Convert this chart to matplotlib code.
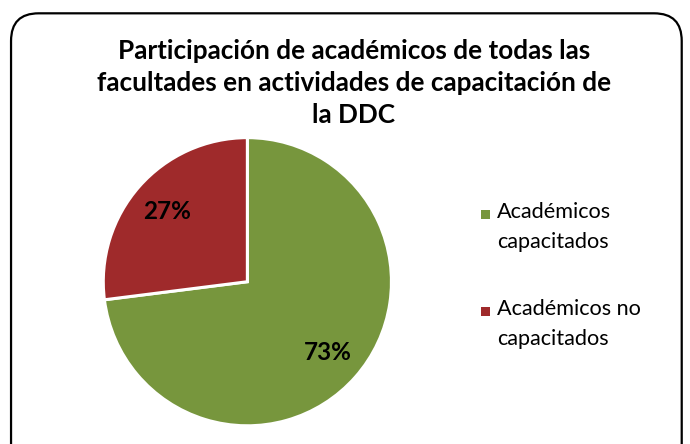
import matplotlib.pyplot as plt
from matplotlib.patches import FancyBboxPatch, Rectangle

plt.rcParams['font.family'] = ['Lato', 'DejaVu Sans']

# datos
labels = ['Académicos\ncapacitados', 'Académicos no\ncapacitados']
values = [73, 27]
colors = ['#77963D', '#9F2A2B']
title = 'Participación de académicos de todas las\nfacultades en actividades de capacitación de\nla DDC'

fig = plt.figure(figsize=(6.9, 4.44), dpi=100)

# marco redondeado
frame = FancyBboxPatch((0.016, -0.1), 0.972, 1.07, boxstyle='round,pad=0,rounding_size=0.04',
                       transform=fig.transFigure, facecolor='none', edgecolor='black',
                       linewidth=1.6, mutation_aspect=690/444, zorder=0)
fig.patches.append(frame)

fig.text(0.513, 0.813, title, ha='center', va='center', fontsize=18.8, fontweight='bold',
         linespacing=1.4)

ax = fig.add_axes([0.149, 0.041, 0.419, 0.649])
wedges, texts, autotexts = ax.pie(values, colors=colors, startangle=90, counterclock=False,
                                  autopct='%d%%', pctdistance=0.74,
                                  wedgeprops=dict(edgecolor='white', linewidth=2.2),
                                  textprops=dict(fontsize=17.5, fontweight='bold', color='black'))
ax.set_xlim(-1.0, 1.0)
ax.set_ylim(-1.0, 1.0)
ax.set_aspect('equal')
ax.axis('off')

# leyenda
for i, (lab, col) in enumerate(zip(labels, colors)):
    ytop = 0.516 - i * 0.218
    fig.patches.append(Rectangle((0.697, ytop - 0.009), 0.0125, 0.0195,
                                 transform=fig.transFigure, facecolor=col, edgecolor='none'))
    fig.text(0.72, ytop + 0.028, lab, ha='left', va='top', fontsize=15.6, linespacing=1.62)

fig.savefig('out.png', dpi=100)
